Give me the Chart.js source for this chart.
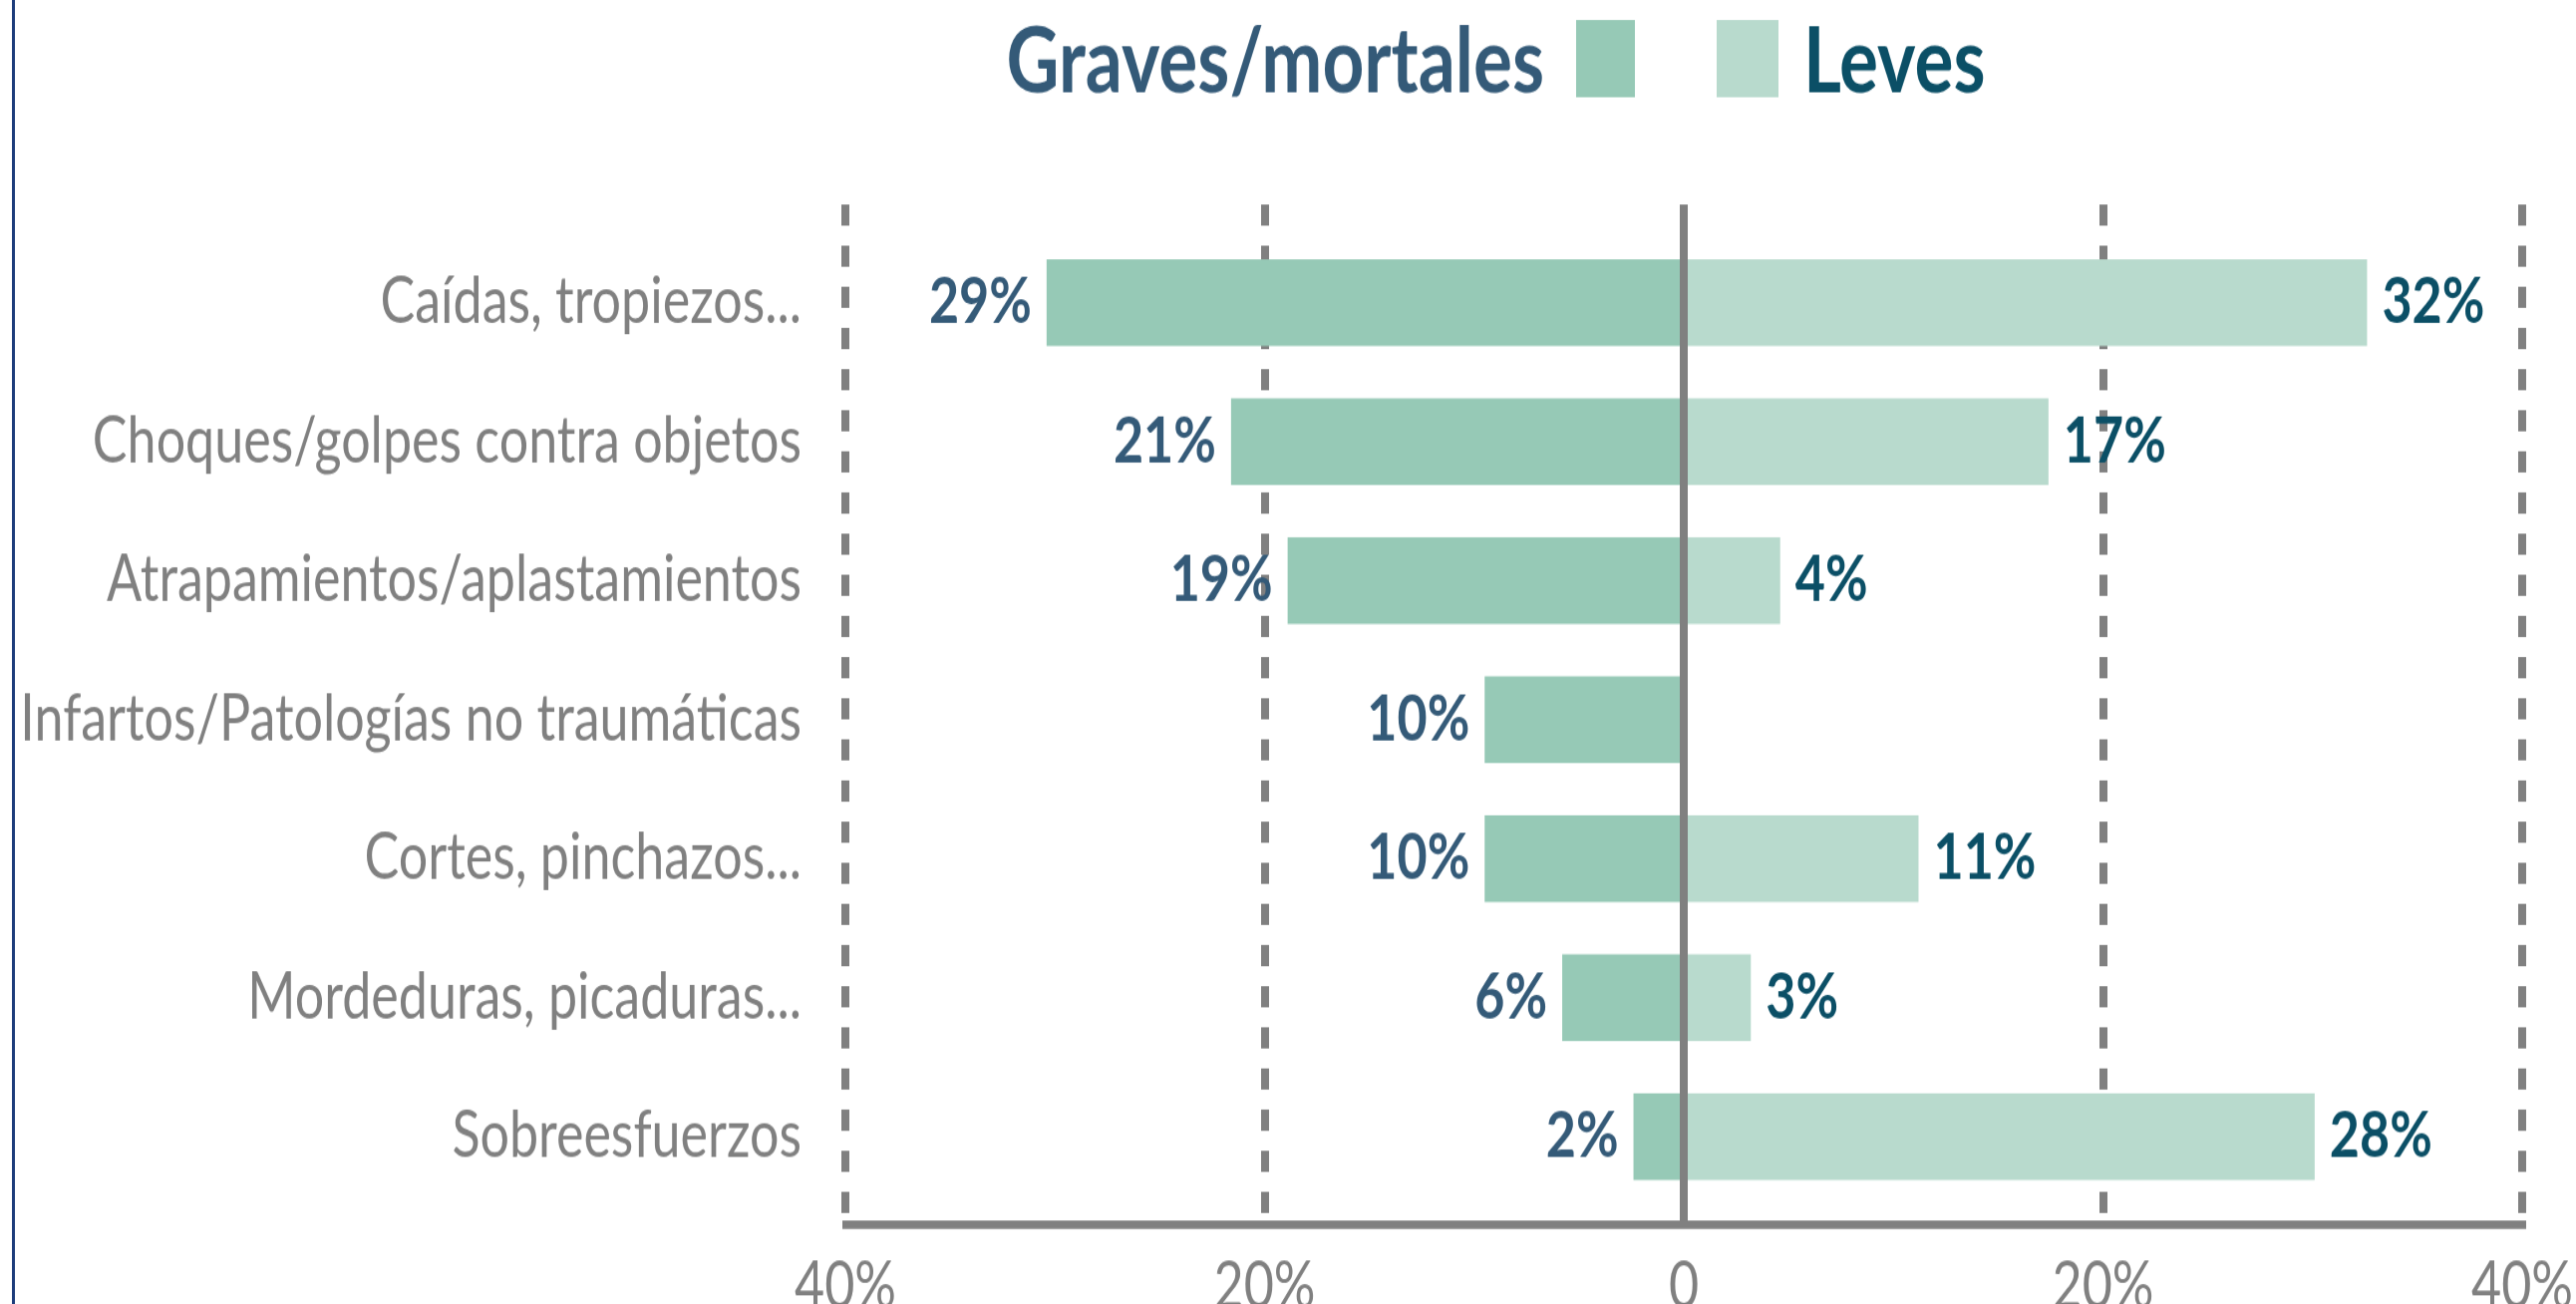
<!DOCTYPE html>
<html>
<head>
<meta charset="utf-8">
<script src="https://cdn.jsdelivr.net/npm/chart.js@4.4.1/dist/chart.umd.min.js"></script>
<style>
  html, body { margin: 0; padding: 0; background: #fff; overflow: hidden; }
  #marco { position: absolute; left: 12px; top: 0; width: 3px; height: 1308px; background: #1e3d7b; }
  /* el original está estirado en vertical: se dibuja más bajo y se escala */
  #lienzo { position: absolute; left: 0; top: 0; width: 2584px; height: 1046px; transform: scaleY(1.2505); transform-origin: 0 0; }
</style>
</head>
<body>
<div id="marco"></div>
<div id="lienzo"><canvas id="grafico"></canvas></div>
<script>
/*------------------------------*/
/*            DATOS             */
/*------------------------------*/
var categorias = ['Caídas, tropiezos...', 'Choques/golpes contra objetos', 'Atrapamientos/aplastamientos',
  'Infartos/Patologías no traumáticas', 'Cortes, pinchazos...', 'Mordeduras, picaduras...', 'Sobreesfuerzos']
var series = ['Graves/mortales', 'Leves']

// longitud de las barras
var graves = [30.4, 21.6, 18.9, 9.5, 9.5, 5.8, 2.4]
var leves = [32.6, 17.4, 4.6, null, 11.2, 3.2, 30.1]

// porcentajes impresos junto a las barras
var gravesPct = [29, 21, 19, 10, 10, 6, 2]
var levesPct = [32, 17, 4, null, 11, 3, 28]

var ticksX = [-40, -20, 0, 20, 40]
/*------------------------------*/

var gris = '#808080'
var colorGraves = '#96c9b6'
var colorLeves = '#b8dacd'
var textoGraves = '#345a78'
var textoLeves = '#0b4f66'

Chart.defaults.font.family = 'Lato, "Open Sans", sans-serif'

// linea del cero y porcentajes encima de las barras
var etiquetas = {
  id: 'etiquetas',
  afterDatasetsDraw: function (chart) {
    var ctx = chart.ctx
    var area = chart.chartArea
    var x0 = chart.scales.x.getPixelForValue(0)
    ctx.save()
    ctx.strokeStyle = gris
    ctx.lineWidth = 8
    ctx.beginPath()
    ctx.moveTo(x0, area.top)
    ctx.lineTo(x0, area.bottom)
    ctx.stroke()

    ctx.font = 'bold 52px Lato'
    ctx.textBaseline = 'middle'
    chart.data.datasets.forEach(function (ds, d) {
      var textos = d === 0 ? gravesPct : levesPct
      chart.getDatasetMeta(d).data.forEach(function (bar, i) {
        if (textos[i] == null) return
        var izq = bar.x < bar.base
        ctx.fillStyle = d === 0 ? textoGraves : textoLeves
        ctx.textAlign = izq ? 'right' : 'left'
        ctx.fillText(textos[i] + '%', izq ? bar.x - 15 : bar.x + 15, bar.y)
      })
    })
    ctx.restore()
  }
}

// leyenda: texto - caja   caja - texto
var leyenda = {
  id: 'leyenda',
  afterDraw: function (chart) {
    var ctx = chart.ctx
    ctx.save()
    ctx.fillStyle = colorGraves
    ctx.fillRect(1581, 16, 59, 62)
    ctx.fillStyle = colorLeves
    ctx.fillRect(1722, 16, 62, 62)
    ctx.font = 'bold 73px Lato'
    ctx.textBaseline = 'alphabetic'
    ctx.fillStyle = textoGraves
    ctx.textAlign = 'right'
    ctx.fillText(series[0], 1549, 73.5)
    ctx.fillStyle = textoLeves
    ctx.textAlign = 'left'
    ctx.fillText(series[1], 1809, 73.5)
    ctx.restore()
  }
}

var ctx_accidentes = document.getElementById('grafico').getContext('2d')

var data_accidentes = {
  datasets: [
    {
      label: series[0],
      data: graves.map(function (v, i) { return { x: v == null ? null : -v, y: i } }),
      backgroundColor: colorGraves
    },
    {
      label: series[1],
      data: leves.map(function (v, i) { return { x: v, y: i } }),
      backgroundColor: colorLeves
    }
  ]
}

var config_accidentes = {
  type: 'bar',
  data: data_accidentes,
  options: {
    indexAxis: 'y',
    responsive: true,
    maintainAspectRatio: false,
    animation: false,
    grouped: false,
    barPercentage: 0.624,
    categoryPercentage: 1,
    layout: { padding: { top: 163.9, right: 54, left: 0, bottom: 0 } },
    plugins: {
      legend: { display: false },
      tooltip: { enabled: false }
    },
    scales: {
      x: {
        type: 'linear',
        min: -40,
        max: 40,
        afterBuildTicks: function (s) { s.ticks = ticksX.map(function (v) { return { value: v } }) },
        afterFit: function (s) { s.height = 63.2; s.paddingLeft = 0; s.paddingRight = 0 },
        grid: { color: gris, lineWidth: 8, drawTicks: false },
        border: { display: true, color: gris, width: 6.8, dash: [17, 16] },
        ticks: {
          color: gris,
          padding: 18,
          font: { size: 52 },
          maxRotation: 0,
          callback: function (v) { return v === 0 ? '0' : Math.abs(v) + '%' }
        }
      },
      y: {
        type: 'linear',
        reverse: true,
        offset: false,
        min: -0.707,
        max: 6.638,
        afterBuildTicks: function (s) { s.ticks = categorias.map(function (c, i) { return { value: i } }) },
        afterFit: function (s) { s.width = 848; s.paddingTop = 0; s.paddingBottom = 0 },
        grid: { display: false, drawTicks: false },
        border: { display: false },
        ticks: {
          color: gris,
          padding: 44,
          autoSkip: false,
          font: { size: 52 },
          callback: function (v) { return categorias[v] }
        }
      }
    }
  },
  plugins: [etiquetas, leyenda]
}
var grafico_accidentes = new Chart(ctx_accidentes, config_accidentes)
</script>
</body>
</html>
